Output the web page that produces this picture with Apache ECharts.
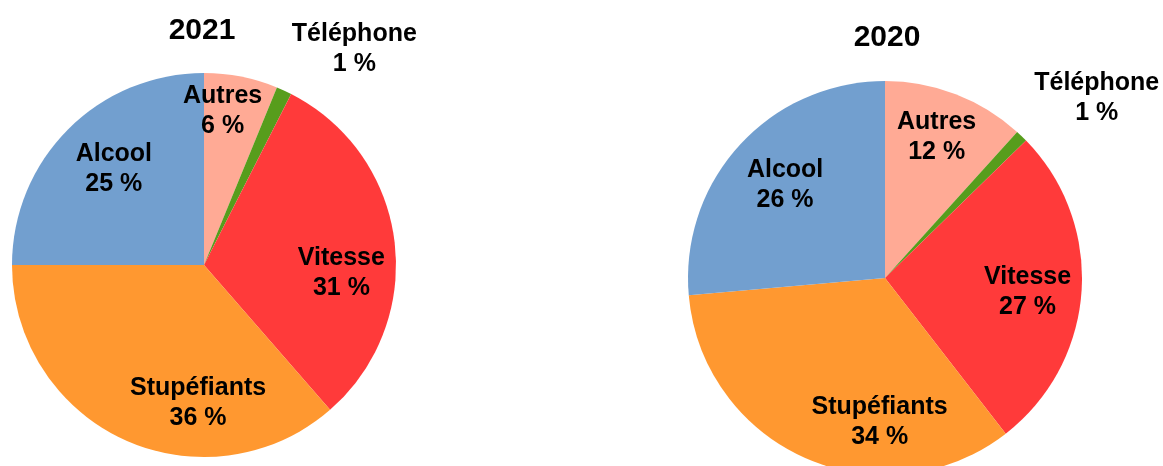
<!DOCTYPE html>
<html><head><meta charset="utf-8">
<script src="https://cdn.jsdelivr.net/npm/echarts@6/dist/echarts.min.js"></script>
<style>html,body{margin:0;padding:0;background:#fff}#c{width:1163px;height:466px}</style>
</head><body><div id="c"></div>
<script>
const categories = ['Autres', 'Téléphone', 'Vitesse', 'Stupéfiants', 'Alcool'];
const years = ['2021', '2020'];
const values2021 = [6.2, 1.3, 31.1, 36.4, 25.0];
const values2020 = [11.7, 1.0, 26.8, 34.1, 26.4];
const colors = ['#ffaa95', '#579d1c', '#ff3a3a', '#ff9830', '#729fcf'];

const FONT = 'Liberation Sans';
const pies = [
  { year: years[0], values: values2021, center: [204, 265], r: 192,
    offsets: [[-8, -19], [93, -91], [1, 25], [51, 13], [7, 1]], titleX: 202, titleTop: 16 },
  { year: years[1], values: values2020, center: [885, 278], r: 197,
    offsets: [[1, -9], [114, -78], [2, 4], [51, 15], [4, 2]], titleX: 887, titleTop: 23 }
];

const series = [];
const titles = [];
pies.forEach(p => {
  series.push({
    type: 'pie', center: p.center, radius: [0, p.r], startAngle: 90, clockwise: true,
    silent: true, animation: false,
    label: { show: false }, labelLine: { show: false },
    itemStyle: { borderWidth: 0 },
    data: categories.map((c, i) => ({ name: c, value: p.values[i], itemStyle: { color: colors[i] } }))
  });
  series.push({
    type: 'pie', center: p.center, radius: [0, p.r * 1.4], startAngle: 90, clockwise: true,
    silent: true, animation: false, z: 5,
    itemStyle: { color: 'rgba(0,0,0,0)', borderWidth: 0 },
    labelLine: { show: false },
    label: {
      show: true, position: 'inside', color: '#000', fontFamily: FONT, fontWeight: 'bold',
      fontSize: 25, lineHeight: 30, align: 'center',
      formatter: prm => prm.name + '\n' + Math.round(prm.value) + ' %'
    },
    data: categories.map((c, i) => ({ name: c, value: p.values[i], label: { offset: p.offsets[i] } }))
  });
  titles.push({
    text: p.year, left: p.titleX, top: p.titleTop, textAlign: 'center', padding: 0,
    textStyle: { fontFamily: FONT, fontWeight: 'bold', fontSize: 30, color: '#000' }
  });
});

const chart = echarts.init(document.getElementById('c'), null, { renderer: 'canvas' });
chart.setOption({ animation: false, backgroundColor: '#fff', title: titles, series: series });
</script>
</body></html>
